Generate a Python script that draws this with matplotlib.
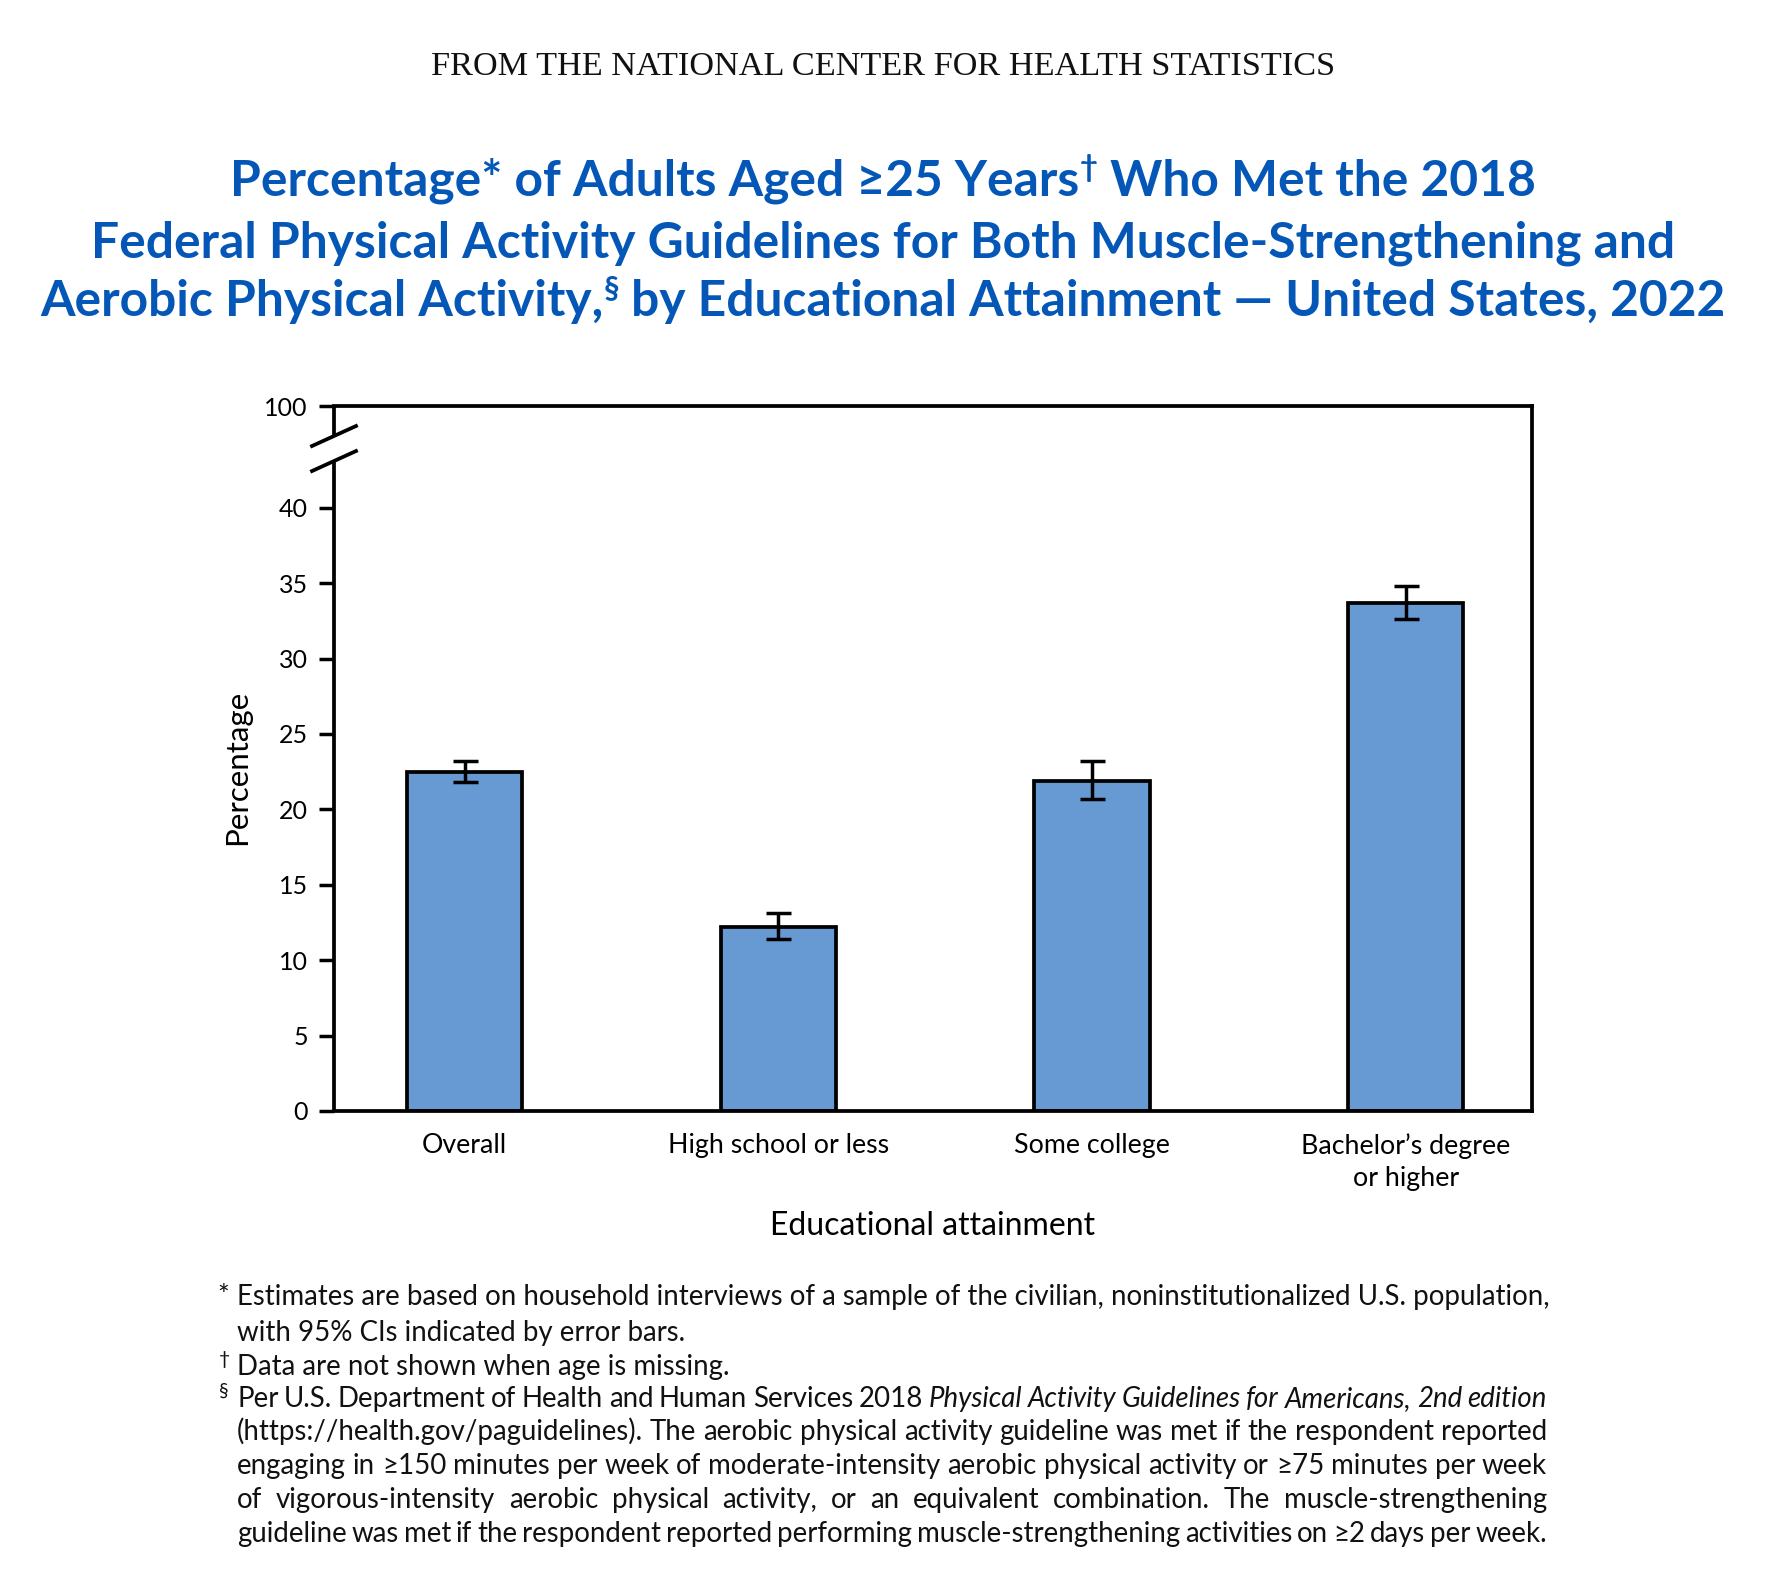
import matplotlib
matplotlib.use('Agg')
import matplotlib.pyplot as plt
from matplotlib.transforms import blended_transform_factory

# data
categories = ['Overall', 'High school or less', 'Some college', 'Bachelor’s degree\nor higher']
percent = [22.5, 12.2, 21.9, 33.7]
ci_low = [21.8, 11.4, 20.7, 32.6]
ci_high = [23.2, 13.1, 23.2, 34.8]
y_ticks = [0, 5, 10, 15, 20, 25, 30, 35, 40]
y_top = 46.75          # where the axis top sits on the linear part (labelled 100)
breaks = [44.76, 43.1]  # centres of the two break slashes

W, H = 1766, 1592
FONT = 'Lato'
BLUE = '#0457B6'
BAR = '#6799D3'

fig = plt.figure(figsize=(W / 100, H / 100), dpi=100)
renderer = fig.canvas.get_renderer()


def fx(px):
    return px / W


def fy(py):
    return 1 - py / H


def width_of(s, **kw):
    t = fig.text(0, 0, s, **kw)
    w = t.get_window_extent(renderer).width
    t.remove()
    return w


def draw_runs(x, y, runs, align='left'):
    # runs: (text, style dict, raise in px)
    widths = [width_of(r[0], **r[1]) for r in runs]
    total = sum(widths)
    if align == 'center':
        x = x - total / 2
    for (s, kw, dy), w in zip(runs, widths):
        fig.text(fx(x), fy(y - dy), s, ha='left', va='baseline', **kw)
        x += w


def justify(x0, x1, y, words):
    # words: (text, style dict)
    widths = [width_of(w, **kw) for w, kw in words]
    gap = (x1 - x0 - sum(widths)) / (len(words) - 1)
    x = x0
    for (s, kw), w in zip(words, widths):
        fig.text(fx(x), fy(y), s, ha='left', va='baseline', **kw)
        x += w + gap


def fit_size(s, target, size, **kw):
    return size * target / width_of(s, size=size, **kw)


# header
hdr = 'FROM THE NATIONAL CENTER FOR HEALTH STATISTICS'
hsize = fit_size(hdr, 904, 22, family='Liberation Serif')
fig.text(fx(883), fy(75), hdr, ha='center', va='baseline',
         family='Liberation Serif', size=hsize, color='#111111')

# title
tkw = dict(family=FONT, weight='bold', color=BLUE)
line3a = 'Aerobic Physical Activity,'
line3b = ' by Educational Attainment — United States, 2022'
tsize = fit_size(line3a + line3b, 1670, 34, **tkw)
tk = dict(tkw, size=tsize)
sup = dict(tkw, size=tsize * 0.62)
rise = tsize * 100 / 72 * 0.38
draw_runs(883, 196, [('Percentage* of Adults Aged ≥25 Years', tk, 0),
                     ('†', sup, rise), (' Who Met the 2018', tk, 0)], 'center')
draw_runs(883, 257, [('Federal Physical Activity Guidelines for Both Muscle-Strengthening and', tk, 0)],
          'center')
draw_runs(883, 316, [(line3a, tk, 0), ('§', sup, rise), (line3b, tk, 0)], 'center')

# chart
ax = fig.add_axes([fx(334), fy(1111), fx(1532 - 334), (1111 - 406) / H])
x = list(range(len(categories)))
err = [[p - lo for p, lo in zip(percent, ci_low)], [hi - p for p, hi in zip(percent, ci_high)]]
ax.bar(x, percent, width=0.367, color=BAR, edgecolor='black', linewidth=2.7, zorder=2)
ax.errorbar(x, percent, yerr=err, fmt='none', ecolor='black', elinewidth=2.5,
            capsize=9, capthick=2.5, zorder=3)
ax.set_xlim(-0.417, 3.403)
ax.set_ylim(0, y_top)
ax.set_yticks(y_ticks + [y_top])
ax.set_yticklabels([str(t) for t in y_ticks] + ['100'])
ax.set_xticks(x)
ax.set_xticklabels(categories)
for lab in ax.get_xticklabels():
    lab.set_linespacing(1.35)
ax.tick_params(axis='y', direction='out', length=10.8, width=2.5, pad=8, labelsize=18)
ax.tick_params(axis='x', length=0, pad=16, labelsize=19.3)
for lab in ax.get_xticklabels() + ax.get_yticklabels():
    lab.set_family(FONT)
for side in ['top', 'right', 'bottom']:
    ax.spines[side].set_linewidth(2.7)
ax.spines['left'].set_visible(False)

# broken left spine with the two slashes
bt = blended_transform_factory(ax.transAxes, ax.transData)
ax.plot([0, 0], [0, breaks[1]], transform=bt, color='black', lw=2.7, clip_on=False,
        solid_capstyle='butt')
ax.plot([0, 0], [breaks[0], y_top], transform=bt, color='black', lw=2.7, clip_on=False,
        solid_capstyle='butt')
dx = 22 / (1532 - 334)
dy = 10 / 15.08
for b in breaks:
    ax.plot([-dx, dx], [b - dy, b + dy], transform=bt, color='black', lw=2.7, clip_on=False)

fig.text(fx(237), fy(767), 'Percentage', rotation=90, ha='center', va='center',
         family=FONT, size=22.5)
fig.text(fx(933), fy(1226), 'Educational attainment', ha='center', va='center',
         family=FONT, size=23)

# footnotes
f1 = 'Estimates are based on household interviews of a sample of the civilian, noninstitutionalized U.S. population,'
fsize = fit_size(f1, 1547 - 237, 17, family=FONT)
fk = dict(family=FONT, size=fsize, color='#111111')
fi = dict(fk, style='italic')
mk = dict(family=FONT, size=fsize * 0.7, color='#111111')
mrise = fsize * 100 / 72 * 0.38

fig.text(fx(217), fy(1305), '*', ha='left', va='baseline', **fk)
fig.text(fx(237), fy(1305), f1, ha='left', va='baseline', **fk)
fig.text(fx(237), fy(1341), 'with 95% CIs indicated by error bars.', ha='left', va='baseline', **fk)
fig.text(fx(219), fy(1375 - mrise), '†', ha='left', va='baseline', **mk)
fig.text(fx(237), fy(1375), 'Data are not shown when age is missing.', ha='left', va='baseline', **fk)
fig.text(fx(219), fy(1407 - mrise), '§', ha='left', va='baseline', **mk)

para = [
    [(w, fk) for w in 'Per U.S. Department of Health and Human Services 2018'.split()]
    + [(w, fi) for w in 'Physical Activity Guidelines for Americans, 2nd edition'.split()],
    [(w, fk) for w in '(https://health.gov/paguidelines). The aerobic physical activity guideline was met if the respondent reported'.split()],
    [(w, fk) for w in 'engaging in ≥150 minutes per week of moderate-intensity aerobic physical activity or ≥75 minutes per week'.split()],
    [(w, fk) for w in 'of vigorous-intensity aerobic physical activity, or an equivalent combination. The muscle-strengthening'.split()],
    [(w, fk) for w in 'guideline was met if the respondent reported performing muscle-strengthening activities on ≥2 days per week.'.split()],
]
for yy, words in zip([1407, 1440, 1474, 1508, 1542], para):
    justify(237, 1547, yy, words)

fig.savefig('out.png', dpi=100)
